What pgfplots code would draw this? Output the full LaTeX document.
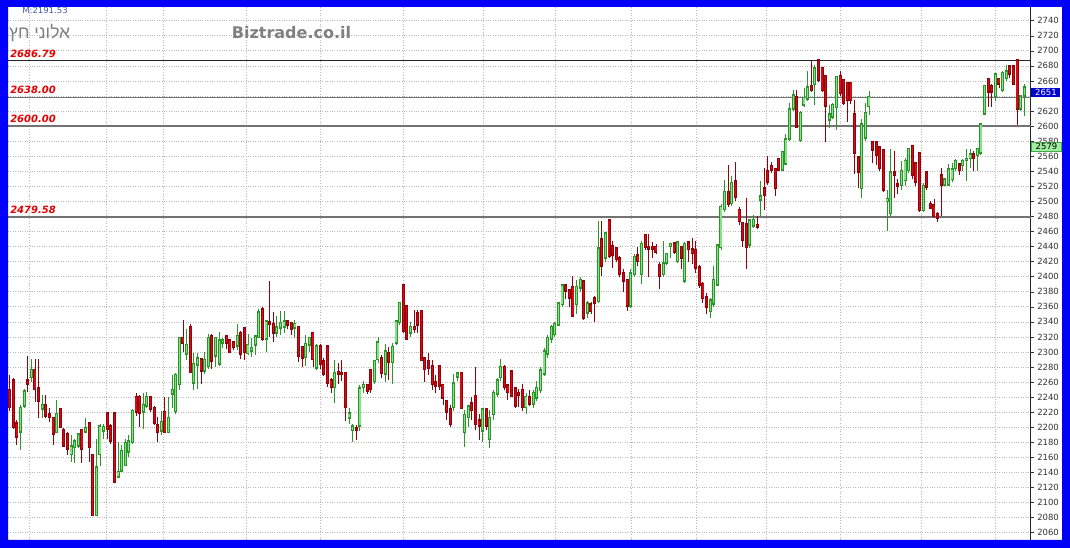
\documentclass[border=0pt]{standalone}
\usepackage{pgfplots}
\pgfplotsset{compat=1.18}
\usepackage{pgfplotstable}
\usepackage{fontspec}
\setmainfont{DejaVu Sans}
\newfontfamily\hebfont[Script=Hebrew]{Liberation Sans}
\TeXXeTstate=1

\definecolor{frameblue}{RGB}{0,0,250}
\definecolor{upfill}{RGB}{135,225,135}
\definecolor{upedge}{RGB}{40,150,40}
\definecolor{dnfill}{RGB}{212,12,22}
\definecolor{dnedge}{RGB}{150,0,10}
\definecolor{gridgray}{RGB}{185,185,185}
\definecolor{lvlred}{RGB}{230,0,0}

\pgfplotstableread{
i o h l c
4 2195 2229 2170 2225
5 2229 2251 2225 2247
7 2267 2291 2260 2276
10 2225 2243 2212 2229
14 2194 2236 2192 2217
18 2165 2190 2154 2174
19 2174 2185 2152 2181
20 2176 2192 2172 2190
22 2195 2212 2192 2199
25 2084 2185 2082 2146
26 2165 2205 2148 2201
27 2196 2205 2185 2200
31 2135 2181 2132 2140
32 2143 2176 2141 2168
33 2150 2185 2148 2179
34 2168 2190 2160 2181
35 2181 2224 2178 2221
38 2221 2245 2198 2229
39 2229 2247 2225 2240
43 2196 2222 2190 2207
45 2194 2240 2192 2212
46 2245 2269 2225 2249
47 2222 2272 2218 2269
48 2258 2320 2250 2318
50 2298 2331 2290 2309
52 2260 2298 2249 2284
53 2284 2298 2251 2291
55 2276 2300 2271 2289
56 2282 2324 2278 2318
58 2296 2320 2280 2318
59 2285 2326 2282 2315
60 2313 2318 2305 2315
64 2309 2337 2302 2321
67 2299 2324 2296 2309
68 2302 2318 2293 2305
69 2310 2322 2296 2320
70 2320 2357 2318 2352
72 2318 2340 2300 2340
75 2326 2348 2320 2332
76 2333 2354 2322 2338
77 2334 2355 2325 2340
80 2333 2342 2318 2337
83 2294 2322 2282 2310
84 2310 2320 2300 2318
86 2280 2311 2276 2307
91 2254 2289 2232 2272
95 2213 2225 2205 2218
96 2197 2205 2180 2201
98 2203 2256 2195 2251
99 2254 2262 2245 2256
102 2262 2289 2258 2288
103 2291 2320 2285 2312
105 2272 2311 2260 2300
107 2287 2312 2258 2306
108 2313 2340 2309 2340
109 2340 2366 2336 2365
112 2326 2340 2320 2333
124 2227 2271 2222 2258
125 2268 2273 2262 2271
127 2194 2223 2174 2216
128 2214 2229 2200 2227
132 2196 2226 2180 2223
134 2185 2223 2172 2212
135 2218 2249 2210 2245
136 2245 2265 2240 2262
137 2267 2291 2262 2280
144 2227 2245 2218 2240
146 2232 2250 2225 2245
147 2240 2262 2235 2252
148 2250 2280 2245 2275
149 2272 2305 2268 2300
150 2298 2322 2292 2318
151 2318 2336 2312 2333
152 2324 2340 2320 2337
153 2337 2366 2335 2364
154 2364 2390 2360 2388
158 2364 2395 2350 2386
159 2386 2399 2380 2395
161 2353 2368 2345 2364
164 2368 2474 2365 2437
166 2426 2460 2420 2457
173 2362 2410 2358 2404
174 2404 2430 2400 2426
176 2404 2447 2390 2443
182 2404 2448 2400 2417
183 2419 2432 2415 2430
184 2441 2445 2425 2443
186 2421 2448 2418 2445
188 2395 2446 2392 2443
195 2355 2372 2345 2368
196 2365 2414 2360 2395
197 2390 2443 2388 2441
198 2440 2496 2436 2492
199 2490 2529 2486 2512
201 2498 2534 2494 2524
206 2443 2477 2438 2474
207 2468 2482 2465 2475
209 2503 2527 2480 2506
215 2543 2567 2540 2565
216 2551 2590 2548 2582
217 2584 2631 2580 2622
218 2624 2648 2620 2640
220 2582 2620 2579 2617
221 2629 2650 2625 2637
222 2637 2673 2634 2651
224 2656 2681 2628 2676
228 2609 2628 2597 2615
229 2613 2631 2610 2628
230 2626 2666 2595 2665
237 2518 2610 2505 2602
238 2585 2631 2580 2617
239 2627 2647 2615 2638
244 2501 2515 2461 2503
245 2485 2569 2480 2538
248 2522 2553 2515 2540
249 2529 2558 2520 2553
250 2542 2571 2538 2569
254 2489 2525 2486 2520
260 2523 2531 2520 2529
261 2523 2550 2520 2542
262 2530 2551 2526 2542
263 2545 2556 2540 2553
265 2549 2556 2540 2553
266 2555 2569 2527 2556
267 2558 2569 2545 2562
269 2562 2571 2540 2569
270 2565 2604 2562 2602
271 2617 2655 2615 2653
274 2640 2670 2634 2668
276 2648 2673 2645 2670
277 2664 2681 2660 2672
281 2624 2640 2620 2639
282 2641 2656 2613 2651
}\upcandles

\pgfplotstableread{
i o h l c
1 2249 2269 2222 2227
2 2262 2265 2198 2201
3 2205 2210 2176 2188
6 2262 2295 2247 2258
8 2276 2291 2234 2251
9 2251 2291 2212 2236
11 2229 2243 2212 2216
12 2217 2225 2207 2214
13 2212 2214 2176 2192
15 2224 2225 2199 2201
16 2196 2199 2174 2176
17 2190 2194 2163 2172
21 2196 2198 2152 2172
23 2205 2207 2154 2174
24 2163 2165 2083 2084
28 2218 2220 2185 2198
29 2201 2205 2178 2183
30 2218 2220 2126 2128
36 2240 2245 2215 2221
37 2240 2243 2201 2220
40 2240 2241 2220 2225
41 2225 2228 2203 2207
42 2202 2214 2181 2194
44 2220 2240 2192 2194
49 2318 2342 2300 2313
51 2333 2337 2272 2274
54 2290 2291 2258 2276
57 2320 2324 2278 2289
61 2320 2322 2304 2313
62 2315 2315 2298 2301
63 2312 2315 2302 2307
65 2325 2328 2291 2298
66 2331 2332 2289 2300
71 2356 2360 2314 2318
73 2339 2394 2320 2338
74 2337 2353 2313 2326
78 2340 2343 2330 2337
79 2338 2340 2322 2331
81 2333 2335 2287 2296
82 2306 2307 2280 2293
85 2325 2326 2280 2291
87 2307 2311 2278 2285
88 2287 2292 2268 2272
89 2307 2309 2254 2260
90 2262 2265 2245 2254
92 2273 2285 2258 2271
93 2272 2289 2262 2271
94 2272 2272 2209 2227
97 2198 2203 2183 2197
100 2256 2258 2244 2249
101 2276 2278 2245 2251
104 2291 2296 2266 2273
106 2298 2307 2263 2287
110 2388 2389 2325 2329
111 2360 2362 2316 2318
113 2333 2356 2325 2331
114 2351 2356 2325 2337
115 2354 2356 2288 2290
116 2291 2293 2260 2278
117 2288 2298 2270 2280
118 2281 2290 2250 2258
119 2259 2269 2245 2256
120 2281 2283 2250 2256
121 2256 2258 2229 2240
122 2234 2236 2210 2221
123 2223 2230 2200 2205
126 2272 2274 2224 2226
129 2231 2240 2210 2223
130 2241 2280 2197 2205
131 2209 2218 2183 2203
133 2224 2225 2196 2203
138 2280 2283 2250 2254
139 2255 2258 2236 2247
140 2274 2276 2240 2242
141 2251 2253 2225 2229
142 2245 2251 2227 2244
143 2249 2258 2222 2227
145 2240 2250 2228 2232
155 2388 2390 2370 2382
156 2382 2384 2360 2373
157 2386 2401 2346 2349
160 2393 2395 2343 2346
162 2363 2366 2350 2355
163 2371 2375 2340 2366
165 2449 2474 2401 2415
167 2474 2476 2425 2428
168 2440 2448 2412 2430
169 2437 2440 2420 2424
170 2424 2428 2400 2404
171 2404 2410 2380 2395
172 2395 2397 2355 2362
175 2428 2440 2414 2421
177 2455 2457 2436 2440
178 2439 2457 2399 2438
179 2439 2446 2425 2437
180 2439 2443 2430 2434
181 2415 2420 2384 2401
185 2444 2446 2430 2434
187 2439 2441 2410 2426
189 2445 2448 2420 2437
190 2436 2452 2417 2432
191 2435 2447 2405 2412
192 2412 2415 2385 2390
193 2390 2393 2365 2372
194 2372 2378 2350 2360
200 2512 2548 2493 2497
202 2526 2552 2500 2506
203 2488 2492 2468 2474
204 2471 2471 2440 2450
205 2469 2505 2410 2440
208 2468 2481 2463 2467
210 2517 2545 2488 2509
211 2540 2560 2522 2527
212 2547 2552 2538 2543
213 2543 2545 2507 2518
214 2556 2558 2540 2543
219 2638 2648 2598 2600
223 2653 2687 2645 2648
225 2687 2688 2658 2662
226 2677 2679 2645 2648
227 2666 2668 2579 2628
231 2666 2673 2640 2644
232 2661 2663 2628 2631
233 2657 2659 2606 2635
234 2657 2659 2630 2635
235 2615 2635 2536 2565
236 2558 2560 2518 2540
240 2578 2580 2551 2569
241 2578 2580 2549 2562
242 2571 2573 2540 2545
243 2567 2570 2513 2516
246 2538 2567 2505 2536
247 2522 2530 2510 2521
251 2573 2575 2530 2536
252 2550 2552 2520 2527
253 2564 2566 2486 2489
255 2538 2540 2515 2520
256 2496 2500 2490 2492
257 2494 2503 2478 2481
258 2483 2486 2472 2479
259 2534 2545 2481 2523
264 2549 2551 2535 2542
268 2562 2567 2540 2558
272 2662 2664 2625 2646
273 2653 2656 2626 2646
275 2662 2664 2650 2657
278 2679 2681 2664 2670
279 2679 2681 2656 2657
280 2687 2689 2602 2624
}\dncandles

\begin{document}
\begin{tikzpicture}[x=1pt,y=1pt]
\useasboundingbox (0,0) rectangle (1070,548);
\fill[white] (0,0) rectangle (1070,548);
\begin{axis}[
  at={(8pt,8pt)}, anchor=south west, scale only axis,
  width=1022.7pt, height=533pt,
  xmin=0.53, xmax=283.8, ymin=2050.3, ymax=2758.2,
  axis x line*=bottom, axis y line*=right,
  x axis line style={draw=none},
  y axis line style={black!85, line width=0.9pt},
  xtick=\empty,
  ytick={2060,2080,...,2740},
  yticklabel pos=right,
  yticklabel={\ifdim\tick pt=2640pt\else\pgfmathprintnumber{\tick}\fi},
  tick align=outside, major tick length=3pt,
  ytick style={black!80, line width=0.5pt},
  ymajorgrids,
  grid style={gridgray, dotted, line width=0.7pt},
  yticklabel style={font=\fontsize{8.5}{10}\selectfont, text=black!80},
  /pgf/number format/assume math mode=true,
  /pgf/number format/1000 sep={},
  unbounded coords=jump,
]
% monthly vertical grid lines
\addplot[gridgray, dotted, line width=0.7pt, forget plot] coordinates {
 (6.35,2050.3) (6.35,2758.2) (6.35,nan)
 (27.7,2050.3) (27.7,2758.2) (27.7,nan)
 (43.5,2050.3) (43.5,2758.2) (43.5,nan)
 (66.5,2050.3) (66.5,2758.2) (66.5,nan)
 (87,2050.3) (87,2758.2) (87,nan)
 (109.9,2050.3) (109.9,2758.2) (109.9,nan)
 (132.1,2050.3) (132.1,2758.2) (132.1,nan)
 (152,2050.3) (152,2758.2) (152,nan)
 (173.1,2050.3) (173.1,2758.2) (173.1,nan)
 (191.1,2050.3) (191.1,2758.2) (191.1,nan)
 (210.5,2050.3) (210.5,2758.2) (210.5,nan)
 (231,2050.3) (231,2758.2) (231,nan)
 (253.4,2050.3) (253.4,2758.2) (253.4,nan)
 (273.9,2050.3) (273.9,2758.2)
};
% level lines
\addplot[black!85, line width=1pt, forget plot] coordinates {(0.53,2686.79) (283.8,2686.79)};
\addplot[black!55, line width=1.5pt, forget plot] coordinates {(0.53,2638.00) (283.8,2638.00)};
\addplot[black!55, line width=1.5pt, forget plot] coordinates {(0.53,2600.00) (283.8,2600.00)};
\addplot[black!55, line width=1.5pt, forget plot] coordinates {(0.53,2479.58) (283.8,2479.58)};

% wicks
\addplot[draw=none, mark=none, forget plot, error bars/.cd, y dir=both, y explicit, error mark=none,
  error bar style={draw=upedge, line width=0.9pt}]
  table[x=i, y=c, y error plus expr=\thisrow{h}-\thisrow{c}, y error minus expr=\thisrow{c}-\thisrow{l}] {\upcandles};
\addplot[draw=none, mark=none, forget plot, error bars/.cd, y dir=both, y explicit, error mark=none,
  error bar style={draw=dnedge, line width=0.9pt}]
  table[x=i, y=c, y error plus expr=\thisrow{h}-\thisrow{c}, y error minus expr=\thisrow{c}-\thisrow{l}] {\dncandles};

% body outlines
\addplot[draw=none, mark=none, forget plot, error bars/.cd, y dir=plus, y explicit, error mark=none,
  error bar style={draw=upedge, line width=3pt, line cap=rect}]
  table[x=i, y=o, y error plus expr=\thisrow{c}-\thisrow{o}] {\upcandles};
\addplot[draw=none, mark=none, forget plot, error bars/.cd, y dir=plus, y explicit, error mark=none,
  error bar style={draw=dnedge, line width=3pt, line cap=rect}]
  table[x=i, y=c, y error plus expr=\thisrow{o}-\thisrow{c}] {\dncandles};
% body fills
\addplot[draw=none, mark=none, forget plot, error bars/.cd, y dir=plus, y explicit, error mark=none,
  error bar style={draw=upfill, line width=1.2pt, line cap=butt}]
  table[x=i, y=o, y error plus expr=\thisrow{c}-\thisrow{o}] {\upcandles};
\addplot[draw=none, mark=none, forget plot, error bars/.cd, y dir=plus, y explicit, error mark=none,
  error bar style={draw=dnfill, line width=1.2pt, line cap=butt}]
  table[x=i, y=c, y error plus expr=\thisrow{o}-\thisrow{c}] {\dncandles};

\node[anchor=base west, inner sep=0pt, text=lvlred, font=\bfseries\itshape\fontsize{10}{12}\selectfont] at (axis cs:1.1,2691) {2686.79};
\node[anchor=base west, inner sep=0pt, text=lvlred, font=\bfseries\itshape\fontsize{10}{12}\selectfont] at (axis cs:1.1,2643.3) {2638.00};
\node[anchor=base west, inner sep=0pt, text=lvlred, font=\bfseries\itshape\fontsize{10}{12}\selectfont] at (axis cs:1.1,2604.8) {2600.00};
\node[anchor=base west, inner sep=0pt, text=lvlred, font=\bfseries\itshape\fontsize{10}{12}\selectfont] at (axis cs:1.1,2484) {2479.58};

\coordinate (r2651) at (axis cs:283.8,2645);
\coordinate (r2579) at (axis cs:283.8,2572.7);
\end{axis}

% right value boxes
\node[anchor=west, fill={rgb,255:red,0;green,0;blue,205}, text=white, font=\fontsize{8.5}{10}\selectfont,
  inner xsep=2.5pt, inner ysep=1.5pt, minimum width=29pt] at ([xshift=0.5pt]r2651) {2651};
\node[anchor=west, fill={rgb,255:red,160;green,238;blue,160}, draw={rgb,255:red,70;green,170;blue,70}, line width=0.6pt, text=black, font=\fontsize{8.5}{10}\selectfont,
  inner xsep=2.5pt, inner ysep=1.2pt, minimum width=30pt] at ([xshift=0.5pt]r2579) {2579};

% titles
\node[text={rgb,255:red,128;green,128;blue,128}, font=\bfseries\fontsize{16}{18}\selectfont] at (291.5,515) {Biztrade.co.il};
\node[anchor=west, inner sep=0pt, text={rgb,255:red,128;green,128;blue,128}, font=\hebfont\fontsize{17.5}{19}\selectfont] at (9,514.5) {\beginR אלוני חץ\endR};
\node[text={rgb,255:red,70;green,90;blue,160}, font=\fontsize{8.5}{9}\selectfont] at (45,538) {M:2191.53};

% blue frame
\fill[frameblue, even odd rule] (0,0) rectangle (1070,548) (8,8) rectangle (1062,541);
\end{tikzpicture}
\end{document}
